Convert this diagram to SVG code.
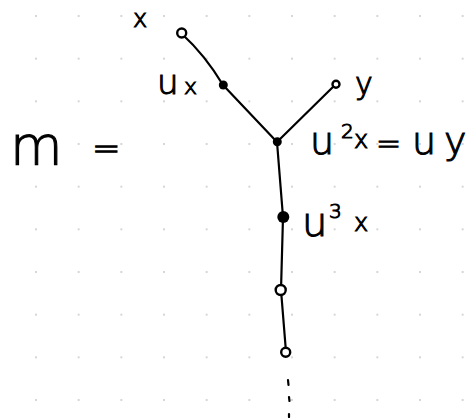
<svg xmlns="http://www.w3.org/2000/svg" width="470" height="418" viewBox="0 0 470 418">
<style>
.t{font-family:"DejaVu Sans","Liberation Sans",sans-serif;font-weight:200;fill:#000;stroke:#000;stroke-width:1.1}
.e{fill:none;stroke:#000;stroke-width:2.2;stroke-linecap:round}
.o{fill:#fff;stroke:#000;stroke-width:2.4}
.f{fill:#000}
</style>
<defs>
<pattern id="grid" x="35" y="15" width="42.667" height="42.667" patternUnits="userSpaceOnUse">
<circle cx="1" cy="1" r="1" fill="#c8c8c8"/>
</pattern>
</defs>
<rect width="470" height="418" fill="#fff"/>
<rect width="470" height="418" fill="url(#grid)"/>
<text class="t" x="10" y="164" font-size="54">m</text>
<text class="t" x="92" y="160" font-size="34">=</text>
<g id="edges">
<path class="e" d="M182 34 Q205 55 223 85"/>
<path class="e" d="M223 85 L277 142"/>
<path class="e" d="M336 84 L277 142"/>
<path class="e" d="M277 142 L283 217 L281 290 L286 352"/>
<path class="e" d="M288 380 L288.5 385 M289 397 L289.5 401 M289 414 L289 417"/>
</g>
<g id="nx"><circle class="o" cx="181.7" cy="33" r="4.5"/><text class="t" x="133" y="27" font-size="24">x</text></g>
<g id="nux"><circle class="f" cx="223.3" cy="85" r="4.5"/><text class="t" x="157" y="94" font-size="34">u<tspan font-size="22" x="184">x</tspan></text></g>
<g id="ny"><circle class="o" cx="336" cy="84.3" r="3.5"/><text class="t" x="355" y="94" font-size="30">y</text></g>
<g id="nj"><circle class="f" cx="277.3" cy="141.7" r="4.5"/><text class="t" x="310" y="154" font-size="38">u<tspan font-size="20" x="341" y="138">2</tspan><tspan font-size="24" x="354" y="148">x</tspan><tspan font-size="30" x="376" y="154">=</tspan><tspan font-size="38" x="412" y="154">u</tspan><tspan font-size="38" x="444" y="154">y</tspan></text></g>
<g id="nu3"><circle class="f" cx="283.3" cy="217" r="6"/><text class="t" x="302" y="236" font-size="40">u<tspan font-size="20" x="329" y="218">3</tspan><tspan font-size="24" x="354" y="231">x</tspan></text></g>
<g id="n4"><circle class="o" cx="280.7" cy="290" r="5"/></g>
<g id="n5"><circle class="o" cx="285.7" cy="352.3" r="4.5"/></g>
</svg>
